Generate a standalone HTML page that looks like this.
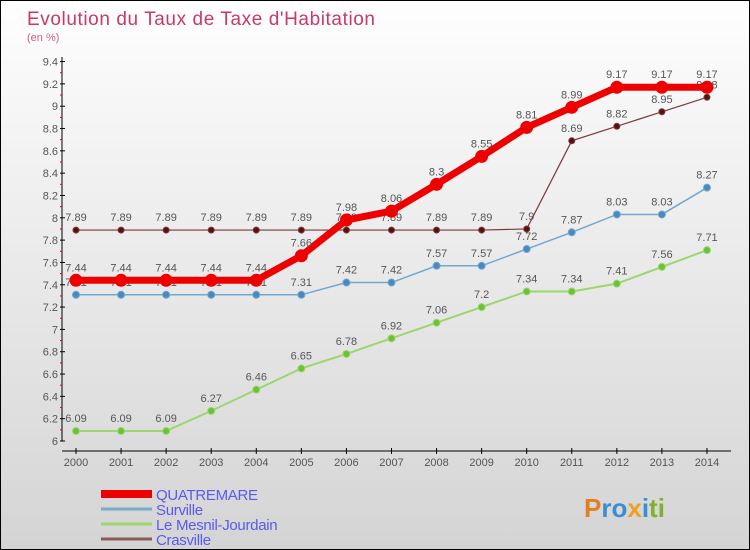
<!DOCTYPE html>
<html><head><meta charset="utf-8"><style>
body{margin:0}
#c{width:750px;height:550px;position:relative;box-sizing:border-box;border:1px solid #000;background:linear-gradient(#fefefe,#d4d4d4);font-family:"Liberation Sans",sans-serif;overflow:hidden}
</style></head><body>
<div id="c">
<svg id="s" width="748" height="548" style="position:absolute;left:0;top:0">
<text x="26" y="24" font-size="19" fill="#c8386a" textLength="348">Evolution du Taux de Taxe d'Habitation</text>
<text x="26" y="40" font-size="11" fill="#d06090">(en %)</text>
<g id="g"></g>
<text x="583" y="516" font-size="26" font-weight="bold" fill="#3a8fd0"><tspan fill="#e08020">P</tspan><tspan fill="#3a8fd0">ro</tspan><tspan fill="#f0a020">x</tspan><tspan fill="#3a8fd0">i</tspan><tspan fill="#80b030">ti</tspan></text>
</svg>
</div>
<script>
const years=[2000,2001,2002,2003,2004,2005,2006,2007,2008,2009,2010,2011,2012,2013,2014];
const quatremare=[7.44,7.44,7.44,7.44,7.44,7.66,7.98,8.06,8.3,8.55,8.81,8.99,9.17,9.17,9.17];
const surville=[7.31,7.31,7.31,7.31,7.31,7.31,7.42,7.42,7.57,7.57,7.72,7.87,8.03,8.03,8.27];
const mesnil=[6.09,6.09,6.09,6.27,6.46,6.65,6.78,6.92,7.06,7.2,7.34,7.34,7.41,7.56,7.71];
const crasville=[7.89,7.89,7.89,7.89,7.89,7.89,7.89,7.89,7.89,7.89,7.9,8.69,8.82,8.95,9.08];
const yTicks=[6,6.2,6.4,6.6,6.8,7,7.2,7.4,7.6,7.8,8,8.2,8.4,8.6,8.8,9,9.2,9.4];
const seriesNames=["QUATREMARE","Surville","Le Mesnil-Jourdain","Crasville"];
const NS="http://www.w3.org/2000/svg";
const g=document.getElementById('g');
const X=i=>75+i*45.07;
const Y=v=>440-(v-6)*111.6;
function el(t,a,p){const e=document.createElementNS(NS,t);for(const k in a)e.setAttribute(k,a[k]);(p||g).appendChild(e);return e;}
let ax=el('line',{x1:61,y1:56,x2:61,y2:440,stroke:'#000','stroke-width':1});


let xa=el('line',{x1:61,y1:450,x2:730,y2:450,stroke:'#000','stroke-width':1});


yTicks.forEach((v,i)=>{
  el('line',{x1:59,y1:Y(v),x2:64,y2:Y(v),stroke:'#000'});
  if(i<yTicks.length-1)el('line',{x1:59,y1:Y(v+0.1),x2:61,y2:Y(v+0.1),stroke:'#e00'});
  const t=el('text',{x:57,y:Y(v)+4,'font-size':11,'text-anchor':'end',fill:'#555'});
  t.textContent=String(v);
  
  
});
years.forEach((y,i)=>{
  el('line',{x1:X(i),y1:447,x2:X(i),y2:453,stroke:'#000'});
  const t=el('text',{x:X(i),y:465,'font-size':11,'text-anchor':'middle',fill:'#555'});
  t.textContent=y;
  
  
});
function series(data,col,dot,w,r,name){
  const grp=el('g',{});
  
  
  el('polyline',{points:data.map((v,i)=>X(i)+','+Y(v)).join(' '),fill:'none',stroke:col,'stroke-width':w},grp);
  data.forEach((v,i)=>{
    const c=el('circle',{cx:X(i),cy:Y(v),r:r,fill:dot,stroke:col,'stroke-width':1},grp);
    
    
    const t=el('text',{x:X(i),y:Y(v)-9,'font-size':11,'text-anchor':'middle',fill:'#555'},grp);
    t.textContent=String(v);
    
    
  });
}
series(mesnil,'#9ed66e','#6ac23a',2,3.5,'series-le-mesnil-jourdain');
series(surville,'#70a8d0','#4a88c0',1.5,3.5,'series-surville');
series(crasville,'#7a3a3a','#5a1010',1.2,3,'series-crasville');
series(quatremare,'#ee0000','#ee0000',7,6,'series-quatremare');
const lc=['#ee0000','#7aaccc','#9ed66e','#8a5a5a'],lw=[8,3,3,3];
seriesNames.forEach((n,i)=>{
  const yy=493+i*15;
  const l=el('line',{x1:100,y1:yy,x2:151,y2:yy,stroke:lc[i],'stroke-width':lw[i]});
  
  
  const t=el('text',{x:155,y:yy+6,'font-size':15,fill:'#5a5aee','letter-spacing':'-0.3'});
  t.textContent=n;
  
  
});
</script>
</body></html>
